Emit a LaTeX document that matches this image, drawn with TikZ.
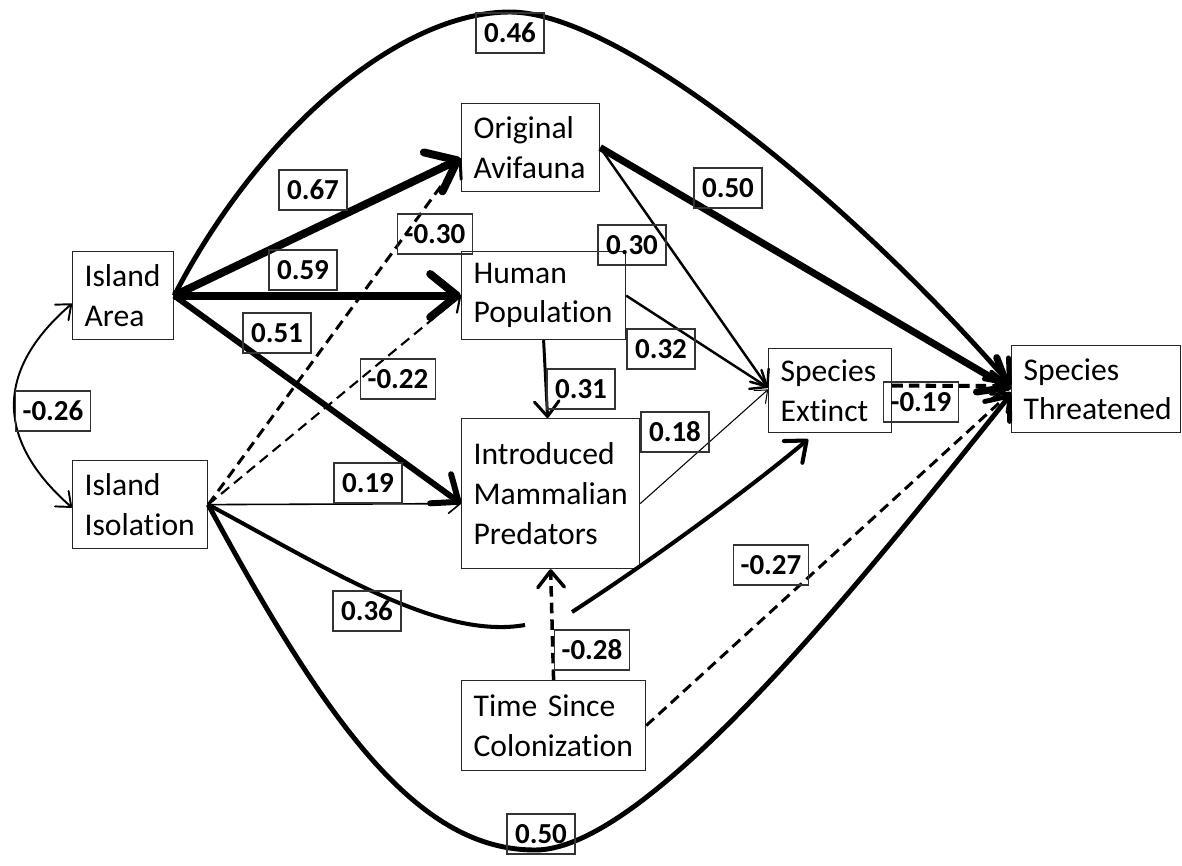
\documentclass[tikz,border=0pt]{standalone}
\usepackage{fontspec}
\setmainfont[Ligatures={NoCommon},WordSpace=0.55]{Carlito}
\usetikzlibrary{arrows.meta,calc}
\begin{document}
\begin{tikzpicture}[x=0.02cm,y=-0.02cm,
  box/.style={draw=black!85, line width=0.7pt, anchor=north west, inner xsep=0.24cm, inner ysep=0pt, align=left, font=\fontsize{18}{22.5}\selectfont},
  lab/.style={draw=black!80, line width=0.6pt, minimum width=1.36cm, minimum height=0.8cm, inner xsep=0.14cm, inner ysep=0pt, font=\bfseries\fontsize{16.5}{18}\selectfont},
  arr/.style={-{Straight Barb[length=4.5pt 2.4, width=7.5pt 3.8, round]}},
  darr/.style={{Straight Barb[length=4.5pt 2.4, width=7.5pt 3.8, round]}-{Straight Barb[length=4.5pt 2.4, width=7.5pt 3.8, round]}},
  dsh/.style={dash pattern=on 6pt off 3.5pt}
]
\useasboundingbox (0,0) rectangle (1182,865);

% nodes
\node[box, text width=1.54cm, minimum height=1.76cm] (area) at (72,251) {Island\\Area};
\node[box, text width=2.22cm, minimum height=1.76cm] (iso) at (72,460) {Island\\Isolation};
\node[box, text width=2.28cm, minimum height=1.76cm] (avi) at (461,103) {Original\\Avifauna};
\node[box, text width=2.80cm, minimum height=1.76cm] (hum) at (461,251) {Human\\Population};
\node[box, text width=3.08cm, minimum height=3.0cm] (pred) at (461,418) {Introduced\\Mammalian\\Predators};
\node[box, text width=1.98cm, minimum height=1.68cm] (ext) at (768,348) {Species\\Extinct};
\node[box, text width=2.90cm, minimum height=1.74cm] (thr) at (1011,345) {Species\\Threatened};
\node[box, text width=3.20cm, minimum height=1.80cm] (time) at (461,680) {Time Since\\Colonization};

\coordinate (gA) at (525,625);
\coordinate (gB) at (572,612);

% edges from Island Area
\draw[arr, line width=4.5pt] (area.east) -- ($(avi.west)+(0,11)$);
\draw[arr, line width=4.5pt] (area.east) -- (hum.west);
\draw[arr, line width=3.4pt] (area.east) -- ($(pred.west)+(0,10)$);
\draw[arr, line width=2.8pt] (area.east) .. controls (260,130) and (400,12) .. (510,12)
      .. controls (620,12) and (850,200) .. ($(thr.west)+(0,-4)$);

% edges from Island Isolation
\draw[arr, dsh, line width=1.7pt] (iso.east) -- ($(avi.west)+(0,11)$);
\draw[arr, dsh, line width=1.2pt] (iso.east) -- (hum.west);
\draw[arr, line width=0.9pt] (iso.east) -- ($(pred.west)+(0,10)$);
\draw[line width=2.3pt] (iso.east) .. controls (330,570) and (440,640) .. (gA);
\draw[arr, line width=2.3pt] (gB) .. controls (660,555) and (760,480) .. ($(ext.south)+(-22,6)$);
\draw[arr, line width=2.8pt] (iso.east) .. controls (330,730) and (420,850) .. (535,850)
      .. controls (650,850) and (870,570) .. ($(thr.west)+(0,5)$);

% correlation
\draw[darr, line width=1.1pt] ($(area.west)+(0,8)$) .. controls (-5,370) and (-5,440) .. ($(iso.west)+(0,3)$);

% others
\draw[arr, line width=4pt] (avi.east) -- (thr.west);
\draw[arr, line width=1.4pt] (avi.east) -- ($(ext.west)+(0,-3)$);
\draw[arr, line width=1.4pt] (hum.east) -- ($(ext.west)+(0,-3)$);
\draw[arr, line width=1.7pt] (hum.south) -- ($(pred.north)+(-3,0)$);
\draw[arr, line width=0.6pt] ($(pred.east)+(0,10)$) -- ($(ext.west)+(0,-1)$);
\draw[arr, dsh, line width=2.3pt] ($(ext.east)+(0,-5)$) -- ($(thr.west)+(0,-3)$);
\draw[arr, dsh, line width=2pt] (time.north) -- (pred.south);
\draw[arr, dsh, line width=1.7pt] (time.east) -- ($(thr.west)+(0,3)$);

% labels
\node[lab] (l46) at (510,33) {0.46};
\node[lab] (l67) at (313,190) {0.67};
\node[lab] (l30n) at (435,234) {-0.30};
\node[lab] (l59) at (303,270) {0.59};
\node[lab] (l51) at (277,333) {0.51};
\node[lab] (l22) at (398,379) {-0.22};
\node[lab] (l26) at (53,411) {-0.26};
\node[lab] (l19) at (368,483) {0.19};
\node[lab] (l30) at (632,245) {0.30};
\node[lab] (l32) at (661,349) {0.32};
\node[lab] (l31) at (581,389) {0.31};
\node[lab] (l50a) at (728,188) {0.50};
\node[lab] (l18) at (675,432) {0.18};
\node[lab] (l19n) at (921,402) {-0.19};
\node[lab] (l27) at (771,565) {-0.27};
\node[lab] (l36) at (367,611) {0.36};
\node[lab] (l28) at (592,650) {-0.28};
\node[lab] (l50b) at (541,834) {0.50};
\end{tikzpicture}
\end{document}
